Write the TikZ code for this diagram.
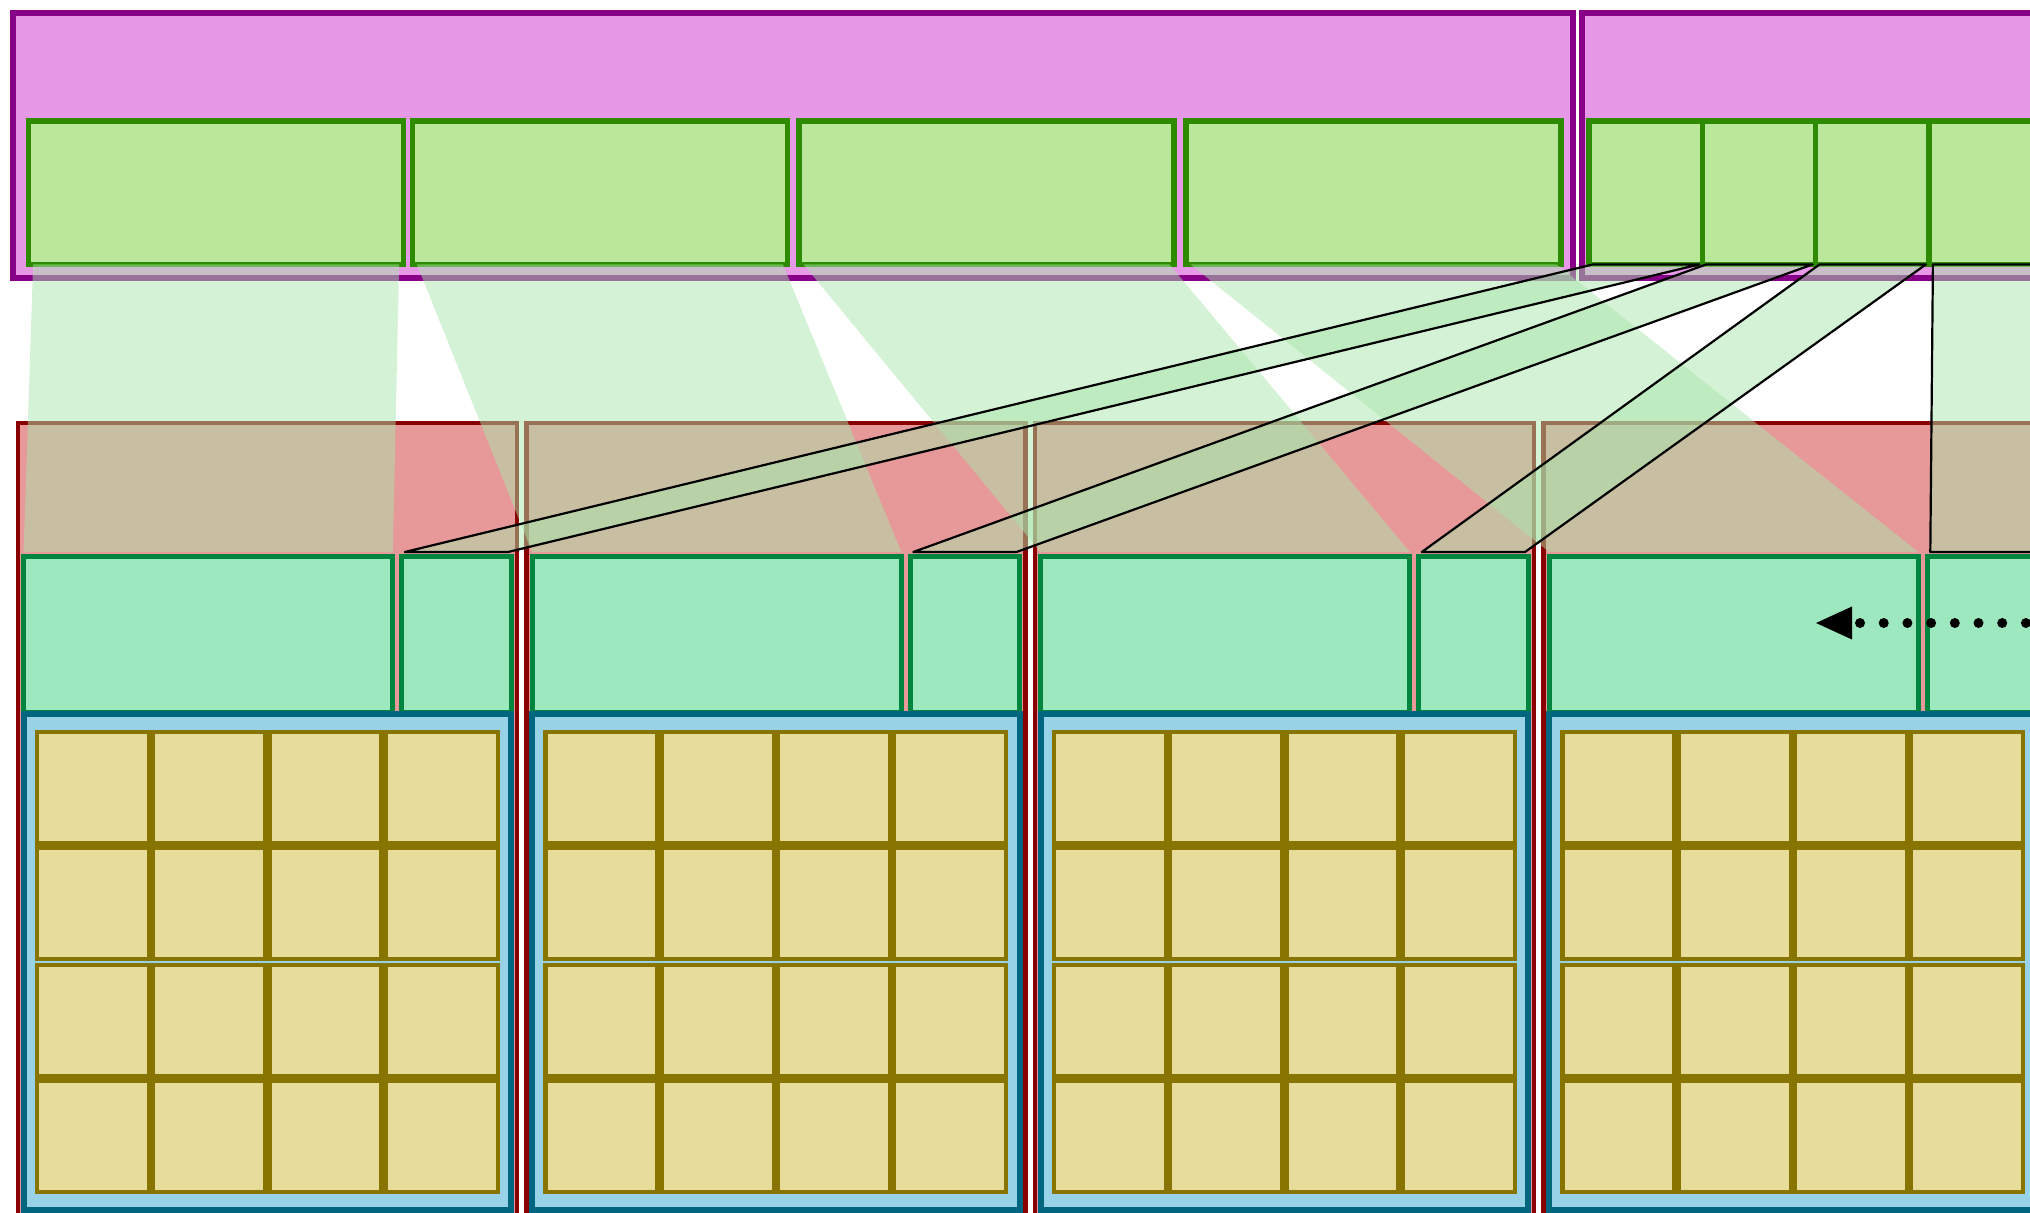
\documentclass[tikz,border=0pt]{standalone}
\usetikzlibrary{arrows.meta}
\definecolor{HierPlum}{RGB}{136,0,136}
\definecolor{HierOrchid}{RGB}{231,153,231}
\definecolor{HierLeaf}{RGB}{46,139,0}
\definecolor{HierLime}{RGB}{185,232,155}
\definecolor{HierMaroon}{RGB}{136,0,0}
\definecolor{HierRose}{RGB}{231,152,152}
\definecolor{HierJade}{RGB}{0,133,62}
\definecolor{HierMint}{RGB}{157,232,191}
\definecolor{HierTeal}{RGB}{0,102,128}
\definecolor{HierSky}{RGB}{152,210,230}
\definecolor{HierOlive}{RGB}{136,116,0}
\definecolor{HierSand}{RGB}{232,220,155}
\definecolor{HierFan}{RGB}{170,229,172}
\tikzset{
  hier/box/.style={
    rectangle,
    inner sep=0pt,
    outer sep=0pt,
    anchor=north west
  },
  hier/group/.style={hier/box, draw=HierPlum, fill=HierOrchid, line width=0.6mm, minimum width=156mm, minimum height=26.45mm},
  hier/chunk/.style={hier/box, draw=HierLeaf, fill=HierLime, line width=0.55mm, minimum height=14.35mm},
  hier/unit/.style={hier/box, draw=HierMaroon, fill=HierRose, line width=0.45mm, minimum width=49.9mm, minimum height=90mm},
  hier/buffer/.style={hier/box, draw=HierJade, fill=HierMint, line width=0.5mm, minimum height=15.6mm},
  hier/array/.style={hier/box, draw=HierTeal, fill=HierSky, line width=0.6mm, minimum width=48.74mm, minimum height=49.6mm},
  hier/cell/.style={hier/box, draw=HierOlive, fill=HierSand, line width=0.42mm, minimum width=11.205mm, minimum height=11.14mm},
  hier/fan/.style={fill=HierFan, fill opacity=0.5},
  hier/fanline/.style={hier/fan, draw=black, line width=0.22mm, line join=round},
  hier/dotarrow/.style={-{Triangle[length=3.6mm,width=3.3mm,line width=0pt]}, line width=1mm, line cap=round, dash pattern=on 0pt off 2.37mm}
}

\begin{document}
\begin{tikzpicture}[x=1mm,y=-1mm]
  \useasboundingbox (0,0) rectangle (203,121.3);
  \clip (0,0) rectangle (203,121.3);
  % upper level: two groups of chunks
  \node[hier/group] (g1) at (1.27,1.3) {};
  \node[hier/group] (g2) at (158.15,1.3) {};
  \foreach \i/\ax in {1/2.86,2/41.24,3/79.9,4/118.6}
    \node[hier/chunk, minimum width=37.5mm] (a\i) at (\ax,12.09) {};
  \foreach \i/\bx in {1/158.9,2/170.23,3/181.56,4/192.89}
    \node[hier/chunk, minimum width=11.33mm] (b\i) at (\bx,12.09) {};
  % lower level: four units
  \foreach \i in {1,...,4} {
    \pgfmathsetmacro\ux{1.78+50.85*(\i-1)}
    \node[hier/unit] (u\i) at (\ux,42.3) {};
    \node[hier/buffer, minimum width=36.92mm] (big\i) at (\ux+0.58,55.6) {};
    \node[hier/buffer, minimum width=10.92mm] (small\i) at (\ux+38.4,55.6) {};
    \node[hier/array] (arr\i) at (\ux+0.58,71.35) {};
    \foreach \c in {0,...,3}
      \foreach \r/\ry in {1/73.2,2/84.76,3/96.5,4/108.06}
        \node[hier/cell] (cell\i\c\r) at (\ux+1.92+11.625*\c,\ry) {};
  }
  % projections
  \foreach \i in {1,...,4}
    \fill[hier/fan] ([xshift=0.45mm]a\i.south west) -- ([xshift=-0.45mm]a\i.south east)
      -- ([yshift=0.4mm]big\i.north east) -- ([yshift=0.4mm]big\i.north west) -- cycle;
  \foreach \i in {1,...,4}
    \filldraw[hier/fanline] ([xshift=0.4mm]b\i.south west) -- ([xshift=-0.3mm]b\i.south east)
      -- ([shift={(-0.3mm,0.4mm)}]small\i.north east) -- ([shift={(0.3mm,0.4mm)}]small\i.north west) -- cycle;
  % dotted link into the last buffer
  \coordinate (src) at (209.7,62.3);
  \coordinate (dst) at (181.6,62.3);
  \draw[hier/dotarrow] (src) -- (dst);
\end{tikzpicture}
\end{document}
